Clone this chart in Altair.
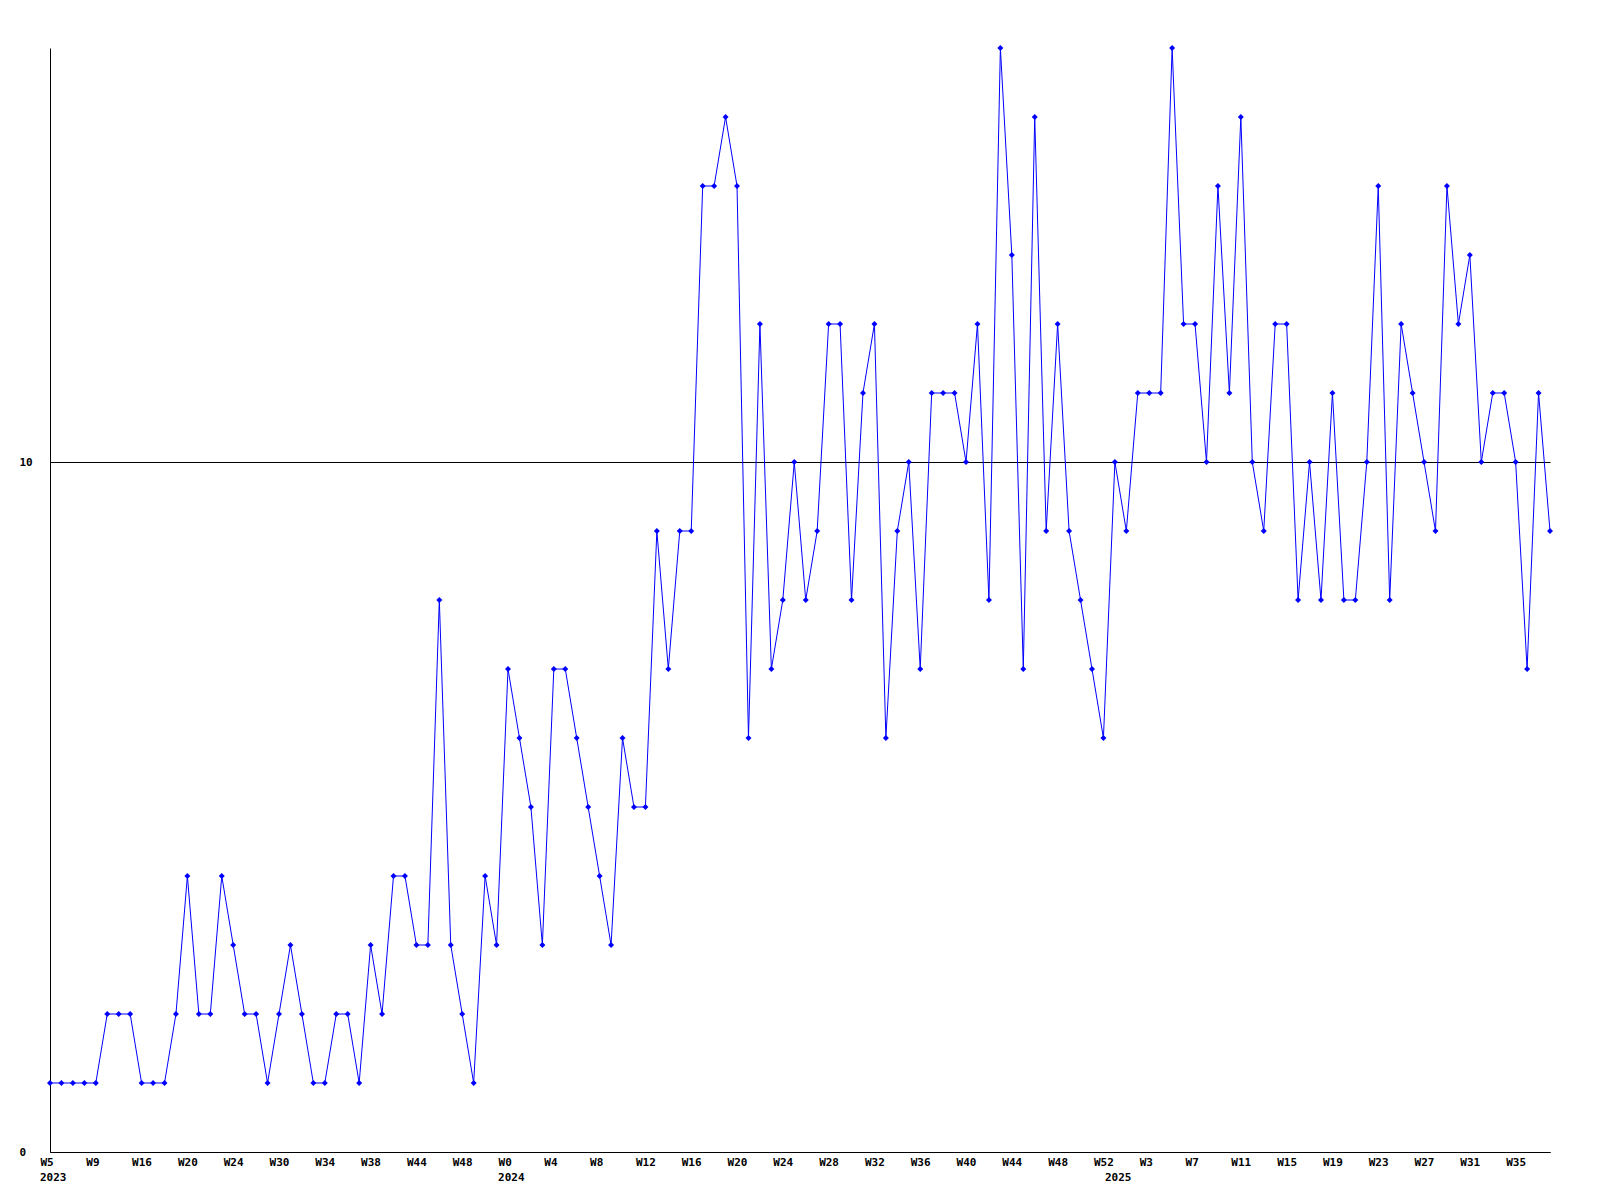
import json
import altair as alt
import pandas as pd

# Weekly values (one per data point, in order)
values = [
    1, 1, 1, 1, 1, 2, 2, 2, 1, 1, 1, 2, 4, 2, 2, 4, 3, 2, 2, 1,
    2, 3, 2, 1, 1, 2, 2, 1, 3, 2, 4, 4, 3, 3, 8, 3, 2, 1, 4, 3,
    7, 6, 5, 3, 7, 7, 6, 5, 4, 3, 6, 5, 5, 9, 7, 9, 9, 14, 14, 15,
    14, 6, 12, 7, 8, 10, 8, 9, 12, 12, 8, 11, 12, 6, 9, 10, 7, 11, 11, 11,
    10, 12, 8, 16, 13, 7, 15, 9, 12, 9, 8, 7, 6, 10, 9, 11, 11, 11, 16, 12,
    12, 10, 14, 11, 15, 10, 9, 12, 12, 8, 10, 8, 11, 8, 8, 10, 14, 8, 12, 11,
    10, 9, 14, 12, 13, 10, 11, 11, 10, 7, 11, 9,
]

# Tick labels shown every 4th point
tick_labels = ["W5", "W9", "W16", "W20", "W24", "W30", "W34", "W38", "W44", "W48",
               "W0", "W4", "W8", "W12", "W16", "W20", "W24", "W28", "W32", "W36",
               "W40", "W44", "W48", "W52", "W3", "W7", "W11", "W15", "W19", "W23",
               "W27", "W31", "W35"]
tick_step = 4

# Year labels and the index of the first point of each year
year_labels = ["2023", "2024", "2025"]
year_start = [0, 40, 93]

y_labels = [0, 10]

df = pd.DataFrame({"i": list(range(len(values))), "v": values})
years = pd.DataFrame({"i": year_start, "label": year_labels})

W, H = 1500, 1104
FONT = "DejaVu Sans Mono"
BLUE = "#0000ff"

x_scale = alt.Scale(domain=[0, len(values) - 1], nice=False, zero=False)
y_scale = alt.Scale(domain=[0, 16], nice=False)

tick_values = [k * tick_step for k in range(len(tick_labels))]
label_expr = json.dumps(tick_labels) + "[round(datum.value/" + str(tick_step) + ")]"

x_axis = alt.Axis(
    values=tick_values, labelExpr=label_expr, title=None, ticks=False, tickSize=0,
    grid=False, domain=True, domainColor="black", domainWidth=1,
    labelAlign="left", labelBaseline="top", labelPadding=4, labelOffset=-10,
    labelFont=FONT, labelFontWeight="bold", labelFontSize=11, labelColor="black",
    labelOverlap=False, labelFlush=False,
)
y_axis = alt.Axis(
    values=y_labels, title=None, ticks=False, tickSize=0, grid=True,
    gridColor="black", gridWidth=1, domain=True, domainColor="black", domainWidth=1,
    labelAlign="left", labelBaseline="middle", labelPadding=31,
    labelFont=FONT, labelFontWeight="bold", labelFontSize=11, labelColor="black",
    format="d",
)

base = alt.Chart(df).encode(
    x=alt.X("i:Q", scale=x_scale, axis=x_axis),
    y=alt.Y("v:Q", scale=y_scale, axis=y_axis),
)
line = base.mark_line(color=BLUE, strokeWidth=1)
pts = base.mark_point(shape="diamond", filled=True, color=BLUE, size=36, opacity=1)

year_text = alt.Chart(years).mark_text(
    align="left", baseline="top", dx=-10, font=FONT, fontWeight="bold",
    fontSize=11, color="black",
).encode(
    x=alt.X("i:Q", scale=x_scale, axis=x_axis),
    y=alt.value(H + 20),
    text="label:N",
)

chart = alt.layer(line, pts, year_text).properties(
    width=W, height=H,
    background="white",
    autosize=alt.AutoSizeParams(type="none"),
    padding={"left": 42, "top": 40, "right": 20, "bottom": 60},
).configure_view(strokeWidth=0, stroke="transparent")

chart.save("out.html", embed_options={"renderer": "svg", "actions": False})
